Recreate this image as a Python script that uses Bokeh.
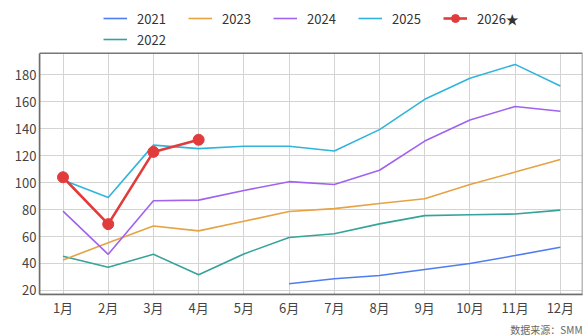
from bokeh.plotting import figure
from bokeh.models import Range1d, FixedTicker, Legend, LegendItem, Title, BoxAnnotation
from bokeh.embed import file_html
from bokeh.resources import INLINE

months = [1, 2, 3, 4, 5, 6, 7, 8, 9, 10, 11, 12]
month_labels = ["1月", "2月", "3月", "4月", "5月", "6月", "7月", "8月", "9月", "10月", "11月", "12月"]
y_ticks = [20, 40, 60, 80, 100, 120, 140, 160, 180]

m2021 = [6, 7, 8, 9, 10, 11, 12]
v2021 = [25, 28.7, 31.1, 35.5, 40, 45.9, 52]
v2022 = [45.4, 37.2, 46.8, 31.6, 47.1, 59.3, 62.1, 69.4, 75.5, 76.2, 76.7, 79.6]
v2023 = [42.6, 55.3, 67.8, 64.2, 71.3, 78.6, 80.7, 84.5, 88, 98.6, 107.8, 117.2]
v2024 = [78.8, 46.8, 86.6, 87, 94.2, 100.7, 98.6, 109.2, 130.8, 146.4, 156.5, 153]
v2025 = [102, 89, 127.8, 125.2, 127, 127, 123.5, 139.3, 161.8, 177.4, 187.7, 171.7]
m2026 = [1, 2, 3, 4]
v2026 = [104, 69.2, 122.8, 131.8]

FONT = "Noto Sans CJK SC"
X0, X1 = 0.48, 12.49
Y0, Y1 = 17, 196

p = figure(width=584, height=336, output_backend="svg", toolbar_location=None,
           x_range=Range1d(X0, X1), y_range=Range1d(Y0, 235.1),
           min_border_left=39, min_border_right=2, min_border_top=0, min_border_bottom=37)

p.outline_line_color = None
p.background_fill_color = "white"
p.border_fill_color = "white"

p.xaxis.ticker = FixedTicker(ticks=months)
p.xaxis.major_label_overrides = {m: l for m, l in zip(months, month_labels)}
p.yaxis.ticker = FixedTicker(ticks=y_ticks)
p.yaxis.bounds = (Y0, Y1)
for ax in (p.xaxis[0], p.yaxis[0]):
    ax.axis_line_color = "#666666"
    ax.axis_line_width = 1.5
    ax.major_tick_line_color = None
    ax.minor_tick_line_color = None
    ax.major_tick_out = 0
    ax.major_tick_in = 0
    ax.minor_tick_out = 0
    ax.major_label_text_font = FONT
    ax.major_label_text_font_size = "13px"
    ax.major_label_text_color = "#444444"
    ax.major_label_standoff = 3
p.xgrid.grid_line_color = "#d4d4d4"
p.ygrid.grid_line_color = "#d4d4d4"
p.xgrid.cross_bounds = (Y0, Y1)

frame_box = BoxAnnotation(left=X0, right=X1, bottom=Y0, top=Y1, fill_alpha=0,
                          line_color="#777777", line_alpha=1, line_width=1.5)
p.add_layout(frame_box)

r21 = p.line(m2021, v2021, line_color="#4f7cf0", line_width=1.6)
r22 = p.line(months, v2022, line_color="#35a39a", line_width=1.6)
r23 = p.line(months, v2023, line_color="#e6a243", line_width=1.6)
r24 = p.line(months, v2024, line_color="#a062f0", line_width=1.6)
r25 = p.line(months, v2025, line_color="#2fb5dc", line_width=1.6)
r26 = p.line(m2026, v2026, line_color="#e23b3b", line_width=2.6)
r26m = p.scatter(m2026, v2026, size=11, fill_color="#e23b3b", line_color="#e23b3b")

leg_style = dict(orientation="horizontal",
                 glyph_width=24, glyph_height=20, label_height=20, label_width=51,
                 label_standoff=10, spacing=0, padding=0, margin=0,
                 label_text_font=FONT, label_text_font_size="13px", label_text_color="#333333",
                 border_line_color=None, background_fill_alpha=0)

legend_row1 = Legend(items=[
    LegendItem(label="2021", renderers=[r21]),
    LegendItem(label="2023", renderers=[r23]),
    LegendItem(label="2024", renderers=[r24]),
    LegendItem(label="2025", renderers=[r25]),
    LegendItem(label="2026★", renderers=[r26, r26m]),
], location=(64, 266), **leg_style)
legend_row2 = Legend(items=[LegendItem(label="2022", renderers=[r22])],
                     location=(64, 245), **leg_style)
p.add_layout(legend_row1, "center")
p.add_layout(legend_row2, "center")

src = Title(text="数据来源：SMM", align="right", text_font=FONT, text_font_size="10px",
            text_color="#666666", text_font_style="normal", standoff=0, offset=0)
p.add_layout(src, "below")

open("out.html", "w").write(file_html(p, INLINE))
